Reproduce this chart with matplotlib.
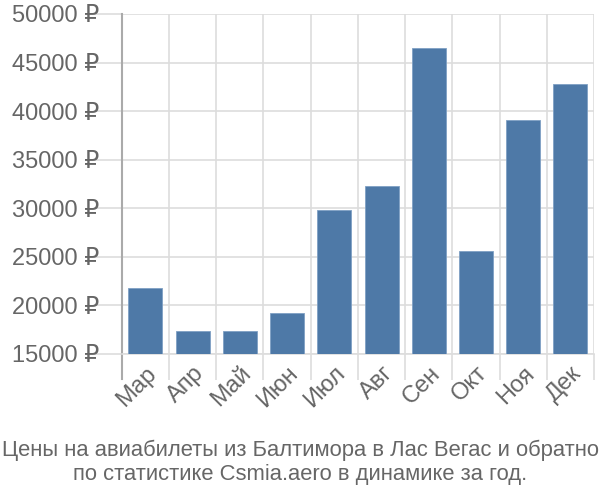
import numpy as np
import matplotlib.pyplot as plt

months = ['Мар', 'Апр', 'Май', 'Июн', 'Июл', 'Авг', 'Сен', 'Окт', 'Ноя', 'Дек']
prices = [21800, 17400, 17400, 19250, 29850, 32300, 46450, 25600, 39100, 42750]
yticks = [15000, 20000, 25000, 30000, 35000, 40000, 45000, 50000]
title = 'Цены на авиабилеты из Балтимора в Лас Вегас и обратно\nпо статистике Csmia.aero в динамике за год.'

plt.rcParams['font.family'] = ['Liberation Sans', 'DejaVu Sans']

fig = plt.figure(figsize=(6, 5), dpi=100)
ax = fig.add_axes([0.203, 0.292, 0.787, 0.68])

x = np.arange(len(months))
ax.bar(x, prices, width=0.72, bottom=0, color='#4e79a7', edgecolor='#7fa0c4',
       linewidth=0.6, zorder=3)

ax.set_ylim(15000, 50000)
ax.set_xlim(-0.5, len(months) - 0.5)
ax.set_yticks(yticks)
ax.set_yticklabels([f'{v} ₽' for v in yticks], fontsize=17, color='#666666')

# vertical grid at category boundaries, labels at centres
ax.set_xticks(np.arange(len(months) + 1) - 0.5)
ax.set_xticklabels([])
ax.set_xticks(x, minor=True)
ax.set_xticklabels(months, minor=True, rotation=45, ha='right',
                   rotation_mode='anchor', fontsize=17, color='#666666')
ax.tick_params(axis='x', which='minor', length=0, pad=6)
ax.tick_params(axis='x', which='major', length=19, color='#dddddd', width=1.2)
ax.tick_params(axis='y', length=20, color='#dddddd', width=1.2, pad=-4)

ax.grid(True, color='#dddddd', linewidth=1.2, zorder=0)
for side in ['top', 'right']:
    ax.spines[side].set_visible(False)
ax.spines['bottom'].set_color('#dddddd')
ax.spines['bottom'].set_linewidth(1.2)
ax.spines['left'].set_color('#aaaaaa')
ax.spines['left'].set_linewidth(1.5)
ax.spines['left'].set_bounds(12400, 50000)

fig.text(0.5, 0.03, title, ha='center', va='bottom', fontsize=15.8,
         color='#666666', linespacing=1.2)

fig.savefig('out.png', dpi=100)
